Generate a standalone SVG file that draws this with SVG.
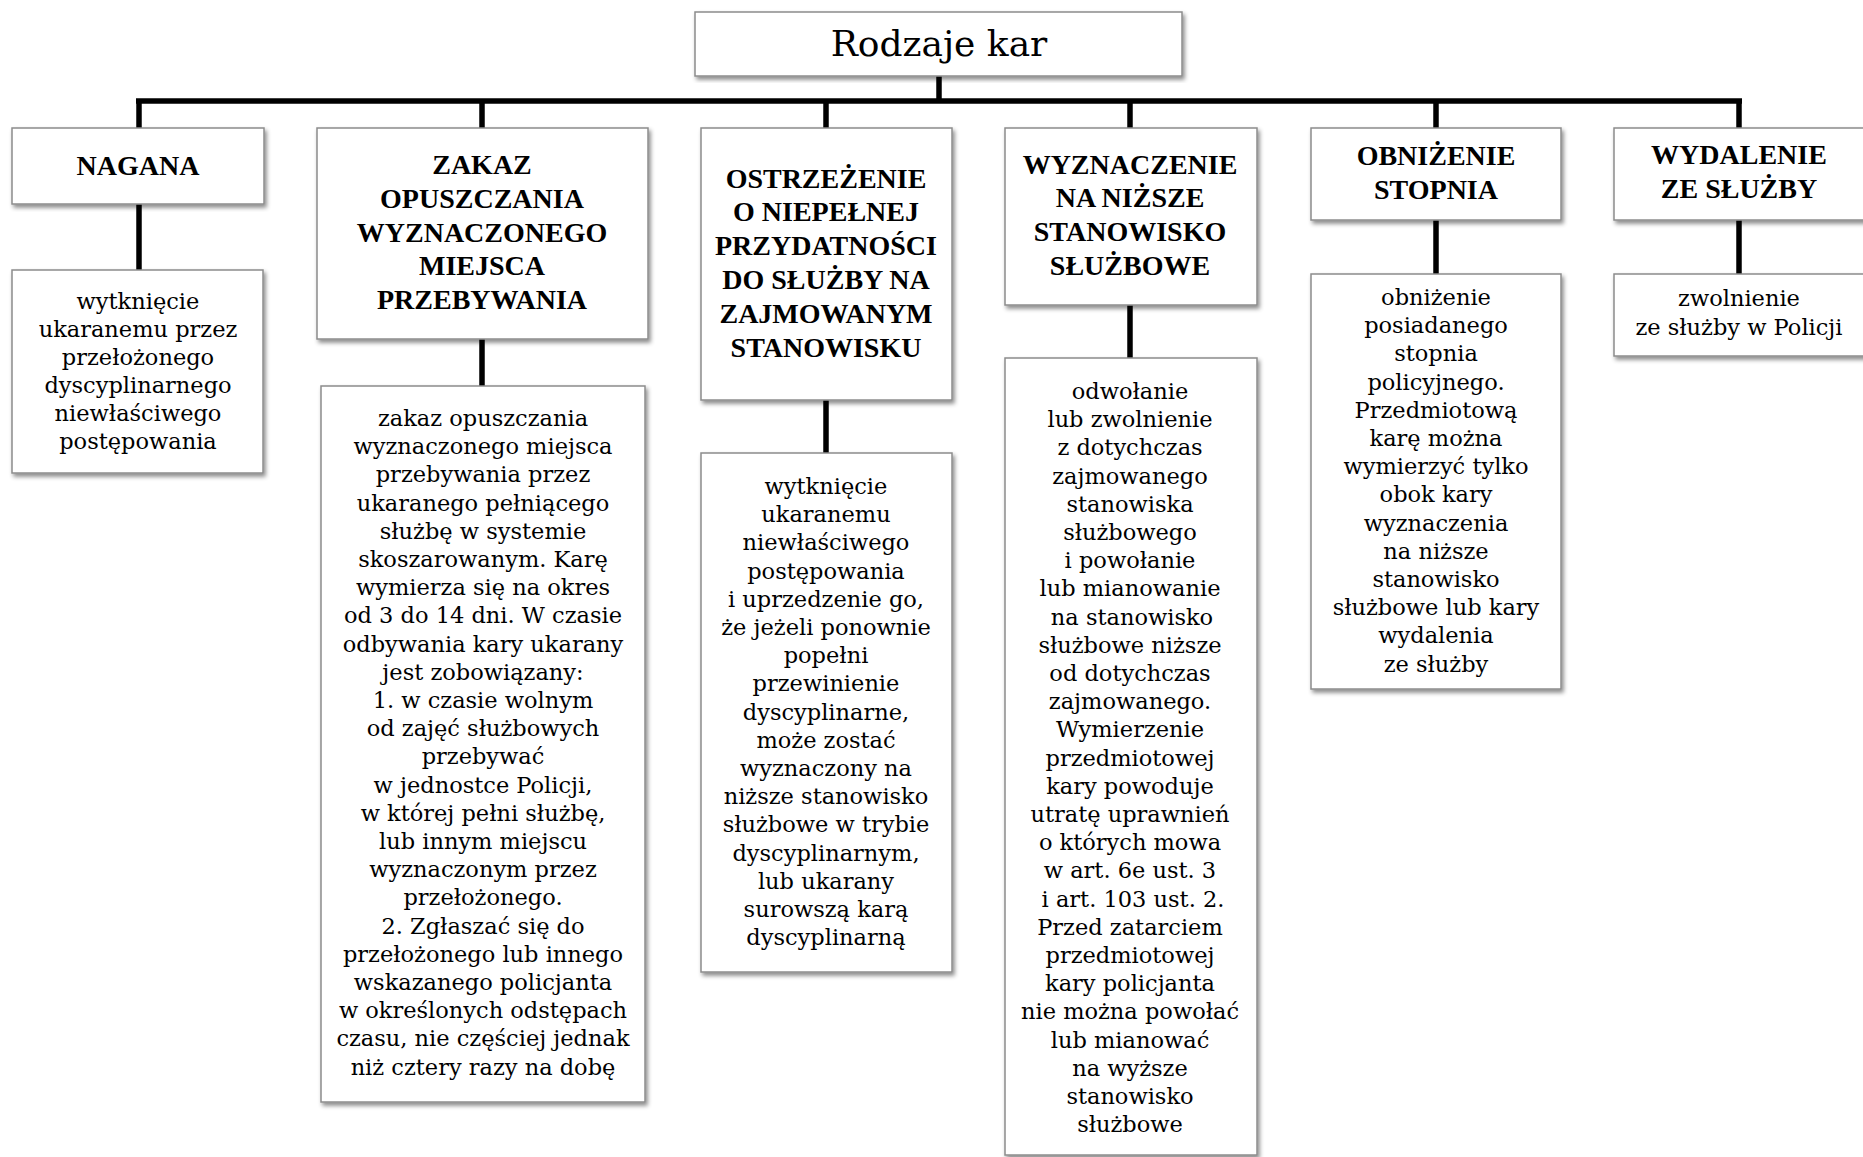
<svg xmlns="http://www.w3.org/2000/svg" width="1863" height="1157" viewBox="0 0 1863 1157">
<defs>
<filter id="sh" x="-5%" y="-5%" width="115%" height="115%">
<feDropShadow dx="2" dy="3" stdDeviation="2" flood-color="#000" flood-opacity="0.45"/>
</filter>
<style>
.box{fill:#fff;stroke:#8c8c8c;stroke-width:1.5;filter:url(#sh)}
.title{font-family:"DejaVu Serif",serif;font-size:36px;fill:#000;text-anchor:middle}
.hd{font-family:"Liberation Serif",serif;font-weight:bold;font-size:28px;fill:#000;text-anchor:middle}
.bd{font-family:"DejaVu Serif",serif;font-size:22.5px;fill:#000;text-anchor:middle}
.ln{stroke:#000;stroke-width:5.5;fill:none}
</style>
</defs>
<rect width="1863" height="1157" fill="#fff"/>
<g id="connectors">
<line class="ln" x1="939" y1="76" x2="939" y2="101"/>
<line class="ln" x1="136" y1="101" x2="1742" y2="101"/>
<line class="ln" x1="139" y1="101" x2="139" y2="128"/>
<line class="ln" x1="482" y1="101" x2="482" y2="128"/>
<line class="ln" x1="826" y1="101" x2="826" y2="128"/>
<line class="ln" x1="1130" y1="101" x2="1130" y2="128"/>
<line class="ln" x1="1436" y1="101" x2="1436" y2="128"/>
<line class="ln" x1="1739" y1="101" x2="1739" y2="128"/>
<line class="ln" x1="139" y1="204" x2="139" y2="270"/>
<line class="ln" x1="482" y1="339" x2="482" y2="386"/>
<line class="ln" x1="826" y1="400" x2="826" y2="453"/>
<line class="ln" x1="1130" y1="305" x2="1130" y2="358"/>
<line class="ln" x1="1436" y1="220" x2="1436" y2="274"/>
<line class="ln" x1="1739" y1="220" x2="1739" y2="274"/>
</g>
<g id="root">
<rect class="box" x="695" y="12" width="487" height="64"/>
<text class="title" x="939" y="56">Rodzaje kar</text>
</g>
<g id="nagana">
<rect class="box" x="12" y="128" width="252" height="76"/>
<text class="hd" x="138" y="175">NAGANA</text>
</g>
<g id="nagana-opis">
<rect class="box" x="12" y="270" width="251" height="203"/>
<text class="bd" x="138" y="309"><tspan x="138">wytknięcie</tspan><tspan x="138" dy="28">ukaranemu przez</tspan><tspan x="138" dy="28">przełożonego</tspan><tspan x="138" dy="28">dyscyplinarnego</tspan><tspan x="138" dy="28">niewłaściwego</tspan><tspan x="138" dy="28">postępowania</tspan></text>
</g>
<g id="zakaz">
<rect class="box" x="317" y="128" width="331" height="211"/>
<text class="hd" x="482" y="174"><tspan x="482">ZAKAZ</tspan><tspan x="482" dy="33.8">OPUSZCZANIA</tspan><tspan x="482" dy="33.8">WYZNACZONEGO</tspan><tspan x="482" dy="33.8">MIEJSCA</tspan><tspan x="482" dy="33.8">PRZEBYWANIA</tspan></text>
</g>
<g id="zakaz-opis">
<rect class="box" x="321" y="386" width="324" height="716"/>
<text class="bd" x="483" y="426"><tspan x="483">zakaz opuszczania</tspan><tspan x="483" dy="28.2">wyznaczonego miejsca</tspan><tspan x="483" dy="28.2">przebywania przez</tspan><tspan x="483" dy="28.2">ukaranego pełniącego</tspan><tspan x="483" dy="28.2">służbę w systemie</tspan><tspan x="483" dy="28.2">skoszarowanym. Karę</tspan><tspan x="483" dy="28.2">wymierza się na okres</tspan><tspan x="483" dy="28.2">od 3 do 14 dni. W czasie</tspan><tspan x="483" dy="28.2">odbywania kary ukarany</tspan><tspan x="483" dy="28.2">jest zobowiązany:</tspan><tspan x="483" dy="28.2">1. w czasie wolnym</tspan><tspan x="483" dy="28.2">od zajęć służbowych</tspan><tspan x="483" dy="28.2">przebywać</tspan><tspan x="483" dy="28.2">w jednostce Policji,</tspan><tspan x="483" dy="28.2">w której pełni służbę,</tspan><tspan x="483" dy="28.2">lub innym miejscu</tspan><tspan x="483" dy="28.2">wyznaczonym przez</tspan><tspan x="483" dy="28.2">przełożonego.</tspan><tspan x="483" dy="28.2">2. Zgłaszać się do</tspan><tspan x="483" dy="28.2">przełożonego lub innego</tspan><tspan x="483" dy="28.2">wskazanego policjanta</tspan><tspan x="483" dy="28.2">w określonych odstępach</tspan><tspan x="483" dy="28.2">czasu, nie częściej jednak</tspan><tspan x="483" dy="28.2">niż cztery razy na dobę</tspan></text>
</g>
<g id="ostrzezenie">
<rect class="box" x="701" y="128" width="251" height="272"/>
<text class="hd" x="826" y="187.5"><tspan x="826">OSTRZEŻENIE</tspan><tspan x="826" dy="33.8">O NIEPEŁNEJ</tspan><tspan x="826" dy="33.8">PRZYDATNOŚCI</tspan><tspan x="826" dy="33.8">DO SŁUŻBY NA</tspan><tspan x="826" dy="33.8">ZAJMOWANYM</tspan><tspan x="826" dy="33.8">STANOWISKU</tspan></text>
</g>
<g id="ostrzezenie-opis">
<rect class="box" x="701" y="453" width="251" height="519"/>
<text class="bd" x="826" y="494"><tspan x="826">wytknięcie</tspan><tspan x="826" dy="28.2">ukaranemu</tspan><tspan x="826" dy="28.2">niewłaściwego</tspan><tspan x="826" dy="28.2">postępowania</tspan><tspan x="826" dy="28.2">i uprzedzenie go,</tspan><tspan x="826" dy="28.2">że jeżeli ponownie</tspan><tspan x="826" dy="28.2">popełni</tspan><tspan x="826" dy="28.2">przewinienie</tspan><tspan x="826" dy="28.2">dyscyplinarne,</tspan><tspan x="826" dy="28.2">może zostać</tspan><tspan x="826" dy="28.2">wyznaczony na</tspan><tspan x="826" dy="28.2">niższe stanowisko</tspan><tspan x="826" dy="28.2">służbowe w trybie</tspan><tspan x="826" dy="28.2">dyscyplinarnym,</tspan><tspan x="826" dy="28.2">lub ukarany</tspan><tspan x="826" dy="28.2">surowszą karą</tspan><tspan x="826" dy="28.2">dyscyplinarną</tspan></text>
</g>
<g id="wyznaczenie">
<rect class="box" x="1005" y="128" width="252" height="177"/>
<text class="hd" x="1130" y="173.5"><tspan x="1130">WYZNACZENIE</tspan><tspan x="1130" dy="33.8">NA NIŻSZE</tspan><tspan x="1130" dy="33.8">STANOWISKO</tspan><tspan x="1130" dy="33.8">SŁUŻBOWE</tspan></text>
</g>
<g id="wyznaczenie-opis">
<rect class="box" x="1005" y="358" width="252" height="797"/>
<text class="bd" x="1130" y="399"><tspan x="1130">odwołanie</tspan><tspan x="1130" dy="28.2">lub zwolnienie</tspan><tspan x="1130" dy="28.2">z dotychczas</tspan><tspan x="1130" dy="28.2">zajmowanego</tspan><tspan x="1130" dy="28.2">stanowiska</tspan><tspan x="1130" dy="28.2">służbowego</tspan><tspan x="1130" dy="28.2">i powołanie</tspan><tspan x="1130" dy="28.2">lub mianowanie</tspan><tspan x="1132" dy="28.2">na stanowisko</tspan><tspan x="1130" dy="28.2">służbowe niższe</tspan><tspan x="1130" dy="28.2">od dotychczas</tspan><tspan x="1130" dy="28.2">zajmowanego.</tspan><tspan x="1130" dy="28.2">Wymierzenie</tspan><tspan x="1130" dy="28.2">przedmiotowej</tspan><tspan x="1130" dy="28.2">kary powoduje</tspan><tspan x="1130" dy="28.2">utratę uprawnień</tspan><tspan x="1130" dy="28.2">o których mowa</tspan><tspan x="1130" dy="28.2">w art. 6e ust. 3</tspan><tspan x="1133" dy="28.2">i art. 103 ust. 2.</tspan><tspan x="1130" dy="28.2">Przed zatarciem</tspan><tspan x="1130" dy="28.2">przedmiotowej</tspan><tspan x="1130" dy="28.2">kary policjanta</tspan><tspan x="1130" dy="28.2">nie można powołać</tspan><tspan x="1130" dy="28.2">lub mianować</tspan><tspan x="1130" dy="28.2">na wyższe</tspan><tspan x="1130" dy="28.2">stanowisko</tspan><tspan x="1130" dy="28.2">służbowe</tspan></text>
</g>
<g id="obnizenie">
<rect class="box" x="1311" y="128" width="250" height="92"/>
<text class="hd" x="1436" y="165"><tspan x="1436">OBNIŻENIE</tspan><tspan x="1436" dy="33.8">STOPNIA</tspan></text>
</g>
<g id="obnizenie-opis">
<rect class="box" x="1311" y="274" width="250" height="415"/>
<text class="bd" x="1436" y="305"><tspan x="1436">obniżenie</tspan><tspan x="1436" dy="28.2">posiadanego</tspan><tspan x="1436" dy="28.2">stopnia</tspan><tspan x="1436" dy="28.2">policyjnego.</tspan><tspan x="1436" dy="28.2">Przedmiotową</tspan><tspan x="1436" dy="28.2">karę można</tspan><tspan x="1436" dy="28.2">wymierzyć tylko</tspan><tspan x="1436" dy="28.2">obok kary</tspan><tspan x="1436" dy="28.2">wyznaczenia</tspan><tspan x="1436" dy="28.2">na niższe</tspan><tspan x="1436" dy="28.2">stanowisko</tspan><tspan x="1436" dy="28.2">służbowe lub kary</tspan><tspan x="1436" dy="28.2">wydalenia</tspan><tspan x="1436" dy="28.2">ze służby</tspan></text>
</g>
<g id="wydalenie">
<rect class="box" x="1614" y="128" width="262" height="92"/>
<text class="hd" x="1739" y="164"><tspan x="1739">WYDALENIE</tspan><tspan x="1739" dy="33.8">ZE SŁUŻBY</tspan></text>
</g>
<g id="wydalenie-opis">
<rect class="box" x="1614" y="274" width="262" height="82"/>
<text class="bd" x="1739" y="306"><tspan x="1739">zwolnienie</tspan><tspan x="1739" dy="28.5">ze służby w Policji</tspan></text>
</g>
</svg>
